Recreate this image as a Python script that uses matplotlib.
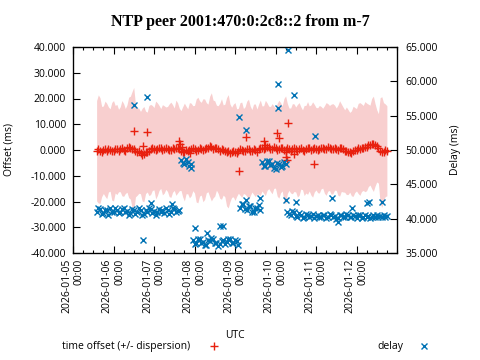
import matplotlib
matplotlib.use('Agg')
import matplotlib.pyplot as plt
from matplotlib.lines import Line2D
from matplotlib.ticker import FormatStrFormatter, MultipleLocator
import numpy as np

plt.rcParams['font.family'] = ['Open Sans', 'DejaVu Sans']

RED = '#e8200e'
BLUE = '#0072b4'
PINK = '#f8cfcf'

# hourly samples, starting 2026-01-05 14:00 UTC
start = np.datetime64('2026-01-05T14:00')
times = start + np.arange(173) * np.timedelta64(1, 'h')

offset = [-0.3, 0.4, -0.2, -0.6, 0.1, 0.5, -0.4, 0.2, 0.0, -0.5,
          -0.3, 0.3, 0.2, -0.2, 0.3, 0.7, 0.0, -0.4, 0.6, 1.0,
          0.9, 0.2, 0.3, -0.2, -0.6, -0.3, -1.0, -1.8, -1.6, -0.9,
          -0.8, -0.2, 0.2, 0.8, 0.5, 0.0, 0.3, 0.8, 0.6, 0.1,
          0.2, 0.7, 0.4, -0.1, 0.1, 0.6, 0.3, 0.9, 0.8, 0.2,
          -0.2, -0.7, -0.8, 0.0, -0.5, -0.1, 0.2, 0.7, 0.3, -0.2,
          0.0, 0.6, 0.5, -0.1, 0.3, 0.9, 0.8, 1.4, 1.2, 0.4,
          0.6, 0.9, 0.2, -0.3, 0.4, 0.0, -0.2, -0.7, -0.5, -1.1,
          -0.9, -0.2, -0.6, -1.0, -0.3, 0.4, 0.1, -0.4, -0.2, 0.5,
          0.2, -0.4, -0.3, 0.3, -0.1, -0.6, 0.3, 0.9, 0.6, 0.2,
          0.8, 1.3, 1.0, 0.4, 0.5, 1.1, 0.7, 0.1, 0.3, 0.9,
          0.6, 0.0, 0.0, 0.6, 0.3, -0.2, 0.5, 0.9, 0.2, -0.3,
          0.4, 0.8, 0.1, -0.2, 0.3, 0.8, 0.6, 0.0, 0.2, 0.7,
          0.5, -0.1, 0.3, 0.9, 0.7, 0.2, 0.4, 1.0, 0.8, 0.3,
          0.5, 0.9, 0.3, -0.1, 0.6, 0.9, 0.2, -0.4, -0.3, -0.8,
          -0.9, -1.3, -0.5, 0.0, 0.1, 0.6, 0.4, 0.9, 0.8, 1.3,
          1.2, 1.8, 1.9, 2.5, 2.4, 2.0, 1.6, 0.6, -0.2, -0.8,
          -0.6, -0.1, -0.3]

dispersion = [19.5, 21.0, 20.5, 17.5, 17.0, 18.5, 18.5, 16.5, 16.0, 19.0,
              19.5, 17.0, 17.5, 16.0, 16.5, 18.5, 18.0, 16.5, 17.0, 19.5,
              20.0, 22.5, 24.0, 18.0, 17.0, 16.5, 16.0, 18.0, 18.5, 16.0,
              15.5, 17.5, 17.5, 16.5, 16.0, 19.0, 18.0, 16.5, 15.5, 17.5,
              17.0, 16.0, 16.5, 18.0, 18.5, 17.0, 16.0, 18.5, 17.5, 16.0,
              15.5, 17.5, 19.0, 17.0, 16.5, 18.5, 18.0, 16.5, 17.0, 20.0,
              20.5, 18.5, 18.0, 20.0, 19.5, 17.5, 17.0, 19.5, 21.0, 19.0,
              18.5, 16.5, 17.0, 18.5, 19.5, 17.5, 18.0, 21.0, 22.0, 19.0,
              17.5, 18.0, 19.0, 17.0, 16.5, 18.0, 18.5, 16.5, 17.0, 18.5,
              19.5, 17.5, 16.0, 17.5, 18.0, 16.5, 17.5, 18.5, 16.5, 17.0,
              18.5, 17.0, 16.0, 16.5, 17.5, 16.0, 15.5, 18.0, 19.0, 17.5,
              16.5, 20.0, 21.0, 17.5, 16.0, 16.5, 17.5, 17.0, 16.5, 18.0,
              18.0, 16.0, 15.5, 17.5, 17.0, 18.0, 16.5, 17.5, 18.5, 17.0,
              16.0, 16.5, 17.0, 16.0, 15.5, 17.0, 18.0, 17.0, 16.5, 17.5,
              17.5, 16.5, 16.0, 17.5, 18.5, 17.0, 16.5, 16.0, 17.0, 16.5,
              15.5, 16.5, 17.5, 16.5, 16.0, 17.5, 18.0, 17.0, 16.5, 17.5,
              17.0, 16.0, 15.5, 17.5, 18.5, 16.0, 14.0, 13.5, 20.5, 21.5,
              19.0, 18.0, 17.5]

delay = [41.0, 41.5, 41.4, 40.7, 40.8, 41.3, 41.2, 40.6, 41.5, 41.0,
         40.9, 41.6, 41.3, 40.8, 41.0, 41.4, 41.6, 40.9, 41.1, 40.6,
         40.8, 41.4, 41.3, 40.7, 40.9, 41.5, 41.2, 40.6, 40.7, 41.3,
         41.0, 41.5, 41.4, 40.8, 41.1, 40.6, 41.0, 41.4, 40.9, 41.2,
         40.8, 41.5, 41.2, 40.7, 41.0, 41.6, 41.4, 40.9, 41.1, 41.3,
         48.6, 48.1, 48.0, 48.7, 48.3, 47.6, 47.9,
         36.9, 36.3, 36.4, 37.1, 37.0, 36.5, 36.6, 36.1, 36.2, 36.9,
         36.8, 37.2, 37.1, 36.4, 36.5, 36.0, 36.3, 36.8, 36.9, 36.3,
         36.6, 37.0, 37.0, 36.5, 36.4, 36.9, 36.7, 36.2,
         41.6, 42.2, 42.1, 41.4, 41.2, 41.9, 41.8, 41.0, 40.9, 41.6,
         41.5, 42.0, 41.3,
         48.2, 47.7, 47.6, 48.4, 48.4, 47.8, 47.9, 47.4, 47.3, 48.1,
         48.0, 47.5, 47.6, 48.3, 48.0,
         41.0, 40.7, 40.6, 41.1, 40.9, 40.4, 40.3, 40.8, 40.6, 40.1,
         40.2, 40.7, 40.5, 40.2, 40.4, 40.7, 40.1, 40.4, 40.6, 40.2,
         40.3, 40.6, 40.5, 40.1, 40.2, 40.7, 40.6, 40.3, 40.4, 40.0,
         40.1, 40.5, 40.5, 40.2, 40.3, 40.7, 40.6, 40.2, 40.2, 40.5,
         40.4, 40.1, 40.5, 40.6, 40.1, 40.3, 40.6, 40.3, 40.4, 40.1,
         40.2, 40.5, 40.3, 40.6, 40.3, 40.4, 40.2, 40.5, 40.3, 40.4]

# isolated samples off the main runs
offset_extra_t = ['2026-01-06T12:09', '2026-01-06T19:51', '2026-01-06T17:28',
                  '2026-01-07T14:48', '2026-01-07T15:24', '2026-01-07T16:35',
                  '2026-01-07T21:20', '2026-01-09T02:40', '2026-01-09T06:31',
                  '2026-01-09T17:11', '2026-01-09T17:47', '2026-01-10T00:53',
                  '2026-01-10T01:47', '2026-01-10T07:42', '2026-01-10T06:31',
                  '2026-01-10T06:13', '2026-01-10T06:43', '2026-01-10T10:58',
                  '2026-01-10T22:59']
offset_extra = [7.4, 7.0, 1.4, 3.5, 2.3, 1.2, -1.2, -8.2, 5.2, 3.5, 1.9,
                6.5, 4.7, 10.4, -0.8, -2.6, -3.9, -1.6, -5.5]

delay_extra_t = ['2026-01-06T12:09', '2026-01-06T20:02', '2026-01-06T17:40',
                 '2026-01-06T22:19', '2026-01-07T10:34', '2026-01-07T21:45',
                 '2026-01-08T00:17', '2026-01-08T07:13', '2026-01-08T15:22',
                 '2026-01-08T16:48', '2026-01-09T02:37', '2026-01-09T06:31',
                 '2026-01-09T06:20', '2026-01-09T14:48', '2026-01-10T01:18',
                 '2026-01-10T01:39', '2026-01-10T07:35', '2026-01-10T10:58',
                 '2026-01-10T23:07', '2026-01-10T06:24', '2026-01-10T12:20',
                 '2026-01-11T09:19', '2026-01-11T13:13', '2026-01-11T21:09',
                 '2026-01-12T06:03', '2026-01-12T07:25', '2026-01-12T14:56']
delay_extra = [56.55, 57.67, 36.9, 42.3, 42.1, 47.4, 38.6, 37.9, 38.9, 38.9,
               54.76, 52.9, 42.7, 42.97, 59.6, 56.07, 64.56, 58.0, 52.1,
               42.7, 42.5, 42.97, 39.56, 41.5, 42.24, 42.4, 42.5]

day_ticks = np.arange(np.datetime64('2026-01-05'), np.datetime64('2026-01-14'))
hour_ticks = np.arange(np.datetime64('2026-01-05T00', 'h'),
                       np.datetime64('2026-01-13T01', 'h'), 6)

offset = np.array(offset)
dispersion = np.array(dispersion)

fig = plt.figure(figsize=(4.8, 3.6), dpi=100)
ax = fig.add_axes([73 / 480, 1 - 253 / 360, 324 / 480, 206 / 360])

ax.fill_between(times, offset - dispersion, offset + dispersion,
                color=PINK, linewidth=0)
ax.plot(times, offset, '+', color=RED, ms=5.5, mew=1.0)
ax.plot(np.array(offset_extra_t, dtype='datetime64[m]'), offset_extra, '+',
        color=RED, ms=5.5, mew=1.0)

ax2 = ax.twinx()
ax2.plot(times, delay, 'x', color=BLUE, ms=5, mew=1.0)
ax2.plot(np.array(delay_extra_t, dtype='datetime64[m]'), delay_extra, 'x',
         color=BLUE, ms=5, mew=1.0)

ax.set_xlim(day_ticks[0], day_ticks[-2])
ax.set_ylim(-40, 40)
ax2.set_ylim(35, 65)

ax.set_xticks(day_ticks[:-1])
ax.set_xticklabels([str(d) + '\n00:00' for d in day_ticks[:-1]],
                   rotation=90, ha='center', va='top', ma='right', fontsize=7.5)
ax.set_xticks(hour_ticks, minor=True)
ax.yaxis.set_major_locator(MultipleLocator(10))
ax.yaxis.set_major_formatter(FormatStrFormatter('%.3f'))
ax2.yaxis.set_major_locator(MultipleLocator(5))
ax2.yaxis.set_major_formatter(FormatStrFormatter('%.3f'))

ax.tick_params(axis='x', which='major', direction='in', top=True, length=5,
               width=0.8, pad=4)
ax.tick_params(axis='x', which='minor', direction='in', top=True, length=2.5,
               width=0.8)
ax.tick_params(axis='y', direction='in', right=False, length=5, width=0.8,
               labelsize=7.5, pad=5)
ax2.tick_params(axis='y', direction='in', length=5, width=0.8,
                labelsize=7.5, pad=6)
for sp in ax.spines.values():
    sp.set_linewidth(0.9)

ax.set_ylabel('Offset (ms)', fontsize=7.5)
ax.yaxis.set_label_coords(-0.182, 0.5)
ax2.set_ylabel('Delay (ms)', fontsize=7.5)
ax2.yaxis.set_label_coords(1.165, 0.5)

fig.text(0.5, 1 - 22 / 360, 'NTP peer 2001:470:0:2c8::2 from m-7',
         family='Liberation Serif', weight='bold', fontsize=11.5,
         ha='center', va='center')

fig.text(235 / 480, 1 - 335 / 360, 'UTC', fontsize=7.5, ha='center', va='center')
fig.text(62 / 480, 1 - 346 / 360, 'time offset (+/- dispersion)', fontsize=7.5,
         va='center')
fig.text(377 / 480, 1 - 346 / 360, 'delay', fontsize=7.5, va='center')
fig.add_artist(Line2D([214 / 480], [1 - 346 / 360], marker='+', color=RED,
                      ms=5.5, mew=1.0, ls='none', transform=fig.transFigure))
fig.add_artist(Line2D([424 / 480], [1 - 346 / 360], marker='x', color=BLUE,
                      ms=5, mew=1.0, ls='none', transform=fig.transFigure))

fig.savefig('out.png', dpi=100)
